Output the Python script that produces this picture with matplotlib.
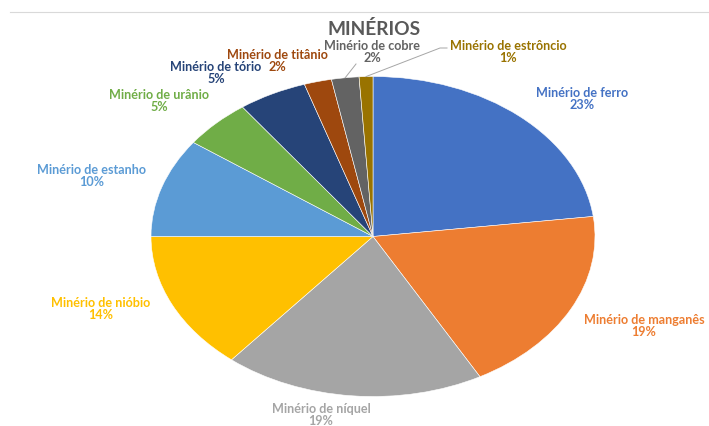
import matplotlib
matplotlib.use("Agg")
import matplotlib.pyplot as plt
from matplotlib.lines import Line2D
import numpy as np

minerios = [
    "Minério de ferro", "Minério de manganês", "Minério de níquel",
    "Minério de nióbio", "Minério de estanho", "Minério de urânio",
    "Minério de tório", "Minério de titânio", "Minério de cobre",
    "Minério de estrôncio",
]
percentuais = [23, 19, 19, 14, 10, 5, 5, 2, 2, 1]
cores = [
    "#4472C4", "#ED7D31", "#A5A5A5", "#FFC000", "#5B9BD5",
    "#70AD47", "#264478", "#9E480E", "#636363", "#997300",
]

# canvas in pixels; pie is stretched horizontally
W, H = 709, 426
CX, CY, RX, RY = 373, 236.5, 222, 160

# centre of each label (name line / percent line), in pixels
pos_rotulos = [(582, 99), (644, 326), (321, 415), (101, 309), (92, 176),
               (159, 101), (216, 73), (277, 61), (372, 52), (508, 52)]
ENTRELINHA = 12


def px(x, y):
    """pixel -> data coords (pie radius = 1)"""
    return (x - CX) / RX, (CY - y) / RY


plt.rcParams["font.family"] = ["Lato", "DejaVu Sans"]

fig = plt.figure(figsize=(W / 100, H / 100), dpi=100)
ax = fig.add_axes([0, 0, 1, 1])

wedges, _ = ax.pie(
    percentuais, colors=cores, startangle=90, counterclock=False, radius=1,
    wedgeprops=dict(edgecolor="white", linewidth=0.4),
)
ax.set_aspect("auto")
ax.set_xlim(px(0, 0)[0], px(W, 0)[0])
ax.set_ylim(px(0, H)[1], px(0, 0)[1])
ax.axis("off")

# name and percent as separate lines so the titânio/tório pair can sit tight
for nome, p, cor, (x, y) in zip(minerios, percentuais, cores, pos_rotulos):
    estilo = dict(color=cor, fontsize=9.1, fontweight="bold",
                  ha="center", va="center")
    ax.text(*px(x, y - ENTRELINHA / 2), nome, **estilo)
    ax.text(*px(x, y + ENTRELINHA / 2), f"{p}%", **estilo)

# leader lines for the two thin slices at the top
cum = np.cumsum([0] + percentuais)
for i, pontos in ((8, [(356, 64)]), (9, [(447, 48), (440, 48)])):
    meio = (cum[i] + percentuais[i] / 2) / 100
    ang = np.deg2rad(90 - 360 * meio)
    xs = [px(*q)[0] for q in pontos] + [np.cos(ang)]
    ys = [px(*q)[1] for q in pontos] + [np.sin(ang)]
    ax.plot(xs, ys, color="#a6a6a6", lw=0.7)

ax.text(*px(374, 29), "MINÉRIOS", color="#595959", fontsize=13.8,
        fontweight="bold", ha="center", va="center")

# thin rule along the top of the chart area
fig.add_artist(Line2D([10 / W, 1], [1 - 12 / H] * 2, color="#d9d9d9", lw=0.8))

fig.savefig("out.png", dpi=100)
